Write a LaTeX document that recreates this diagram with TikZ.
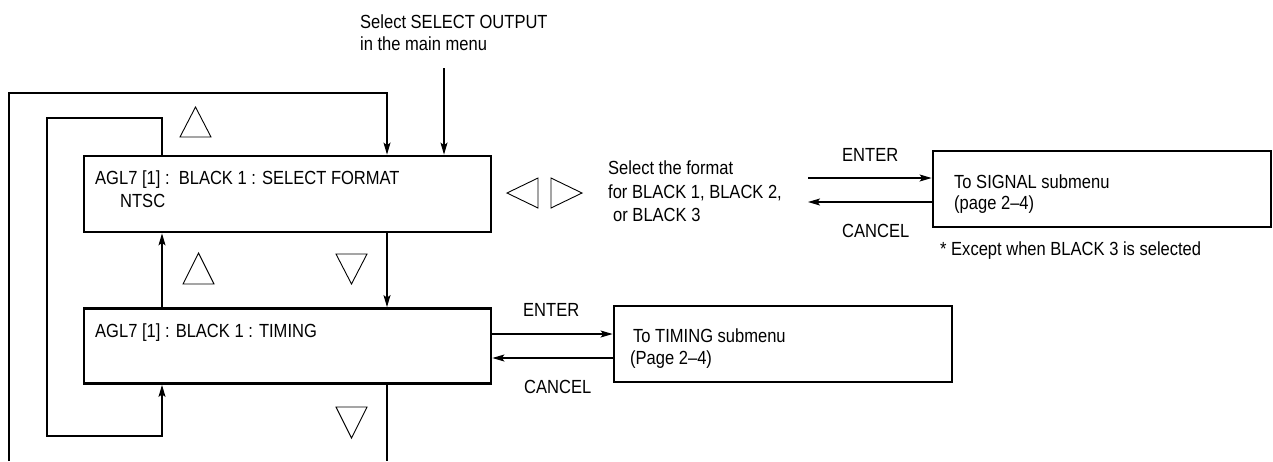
\documentclass[tikz,border=0pt]{standalone}
\usepackage{fontspec}
\setmainfont{Liberation Sans}[FakeStretch=0.87]
\usetikzlibrary{arrows.meta}
\begin{document}
\begin{tikzpicture}[x=1pt,y=-1pt,
  box/.style={draw, line width=2.8pt, inner sep=0pt},
  lbl/.style={anchor=base west, inner sep=0pt, font=\fontsize{19}{22}\selectfont},
  conn/.style={line width=1.2pt},
  arr/.style={conn, -{Stealth[length=12pt,width=7pt,inset=2.5pt]}},
  tri/.style={line width=0.9pt, line join=miter}]
\useasboundingbox (0,0) rectangle (1273,461);

% boxes
\node[box, minimum width=407pt, minimum height=76pt] (b1) at (287.5,194) {};
\node[box, minimum width=407pt, minimum height=75pt] (b2) at (287.5,346) {};
\node[box, minimum width=338pt, minimum height=76pt] (sig) at (1102,189) {};
\node[box, minimum width=338pt, minimum height=76pt] (tim) at (783,344) {};

% texts
\node[lbl] (t1) at (360,28) {Select SELECT OUTPUT};
\node[lbl] (t2) at (360,50) {in the main menu};
\node[lbl] (b1a) at (95,184) {AGL7 [1] :\ \ BLACK 1 : SELECT FORMAT};
\node[lbl] (b1b) at (120,207) {NTSC};
\node[lbl] (b2a) at (95,337) {AGL7 [1] : BLACK 1 : TIMING};
\node[lbl] (f1) at (608,174) {Select the format};
\node[lbl] (f2) at (608,198) {for BLACK 1, BLACK 2,};
\node[lbl] (f3) at (613,221) {or BLACK 3};
\node[lbl] (en1) at (842,161) {ENTER};
\node[lbl] (ca1) at (842,237) {CANCEL};
\node[lbl] (s1) at (954,188) {To SIGNAL submenu};
\node[lbl] (s2) at (954,209) {(page 2–4)};
\node[lbl] (ex) at (940,255) {* Except when BLACK 3 is selected};
\node[lbl] (en2) at (523,316) {ENTER};
\node[lbl] (ca2) at (524,393) {CANCEL};
\node[lbl] (m1) at (633,342) {To TIMING submenu};
\node[lbl] (m2) at (630,364) {(Page 2–4)};

% coordinates
\coordinate (oA) at (9,461);
\coordinate (oB) at (9,93);
\coordinate (oC) at (387,93);
\coordinate (oD) at (387,461);
\coordinate (iA) at (162,118);
\coordinate (iB) at (47,118);
\coordinate (iC) at (47,436);
\coordinate (iD) at (162,436);
\coordinate (mm) at (444,68);
\coordinate (e1) at (808,178);
\coordinate (c1) at (808,202);
\coordinate (e2) at (0,334);
\coordinate (c2) at (0,358);

% connectors
\draw[arr] (oA) -- (oB) -- (oC) -- (oC |- b1.north);
\draw[arr] (b1.north -| iA) -- (iA) -- (iB) -- (iC) -- (iD) -- (iD |- b2.south);
\draw[arr] (b2.north -| iA) -- (b1.south -| iA);
\draw[arr] (b1.south -| oC) -- (b2.north -| oC);
\draw[conn] (b2.south -| oD) -- (oD);
\draw[arr] (mm) -- (mm |- b1.north);
\draw[arr] (e1) -- (e1 -| sig.west);
\draw[arr] (c1 -| sig.west) -- (c1);
\draw[arr] (e2 -| b2.east) -- (e2 -| tim.west);
\draw[arr] (c2 -| tim.west) -- (c2 -| b2.east);

% triangles
\draw[tri] (180,137) -- (211,137) -- (195.5,107) -- cycle;
\draw[tri] (183,284) -- (214,284) -- (198.5,253) -- cycle;
\draw[tri] (336,254) -- (367,254) -- (351.5,284) -- cycle;
\draw[tri] (336,407) -- (367,407) -- (351.5,438) -- cycle;
\draw[tri] (507,193) -- (538,178) -- (538,208) -- cycle;
\draw[tri] (582,193) -- (551,178) -- (551,208) -- cycle;
\end{tikzpicture}
\end{document}
